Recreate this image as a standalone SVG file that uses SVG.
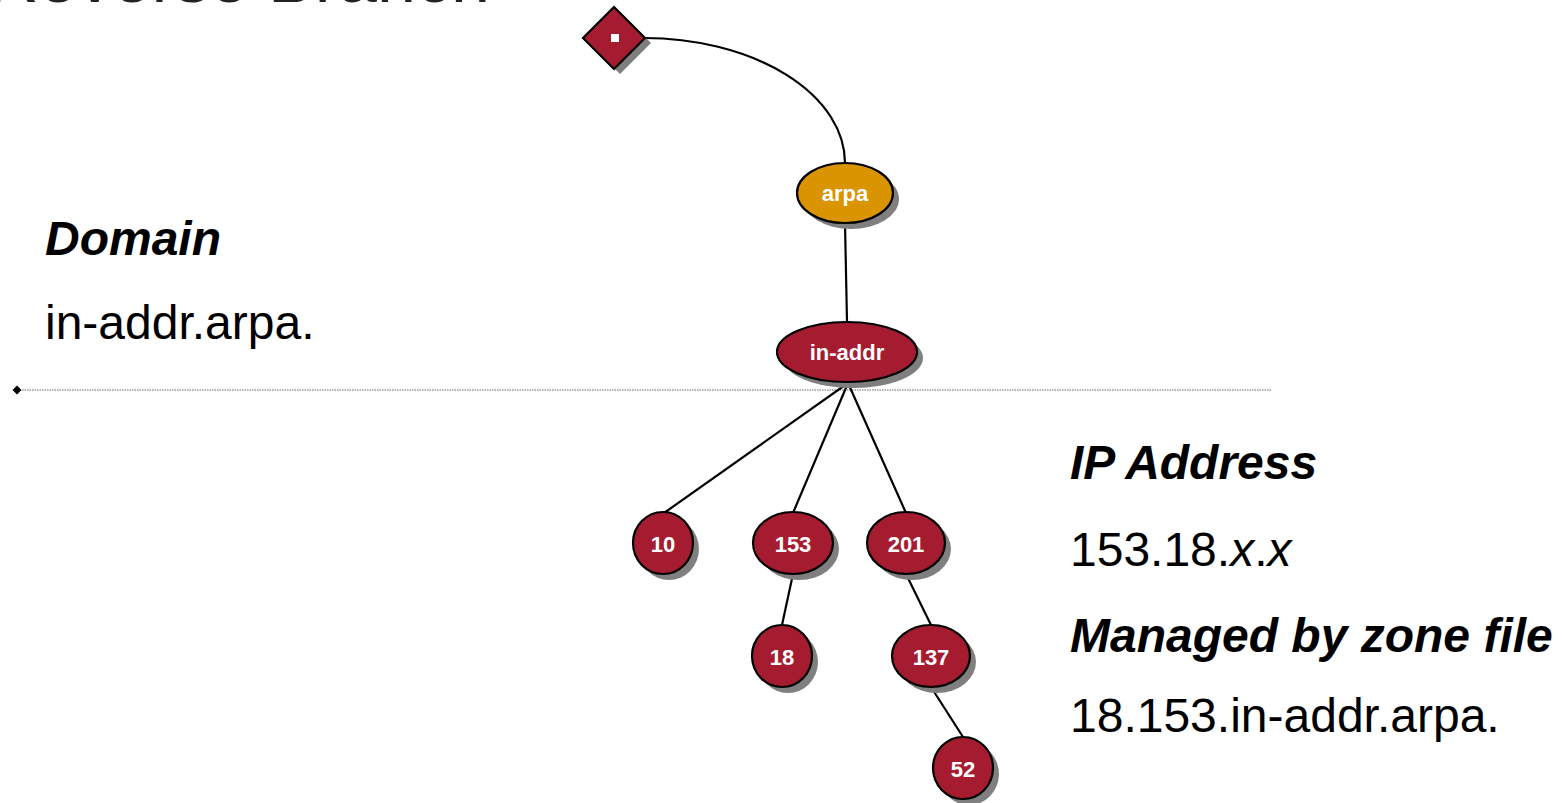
<svg xmlns="http://www.w3.org/2000/svg" width="1566" height="803" viewBox="0 0 1566 803">
  <style>
    .node { fill: #A51C30; stroke: #000; stroke-width: 2.2; }
    .gold { fill: #D99400; stroke: #000; stroke-width: 2.2; }
    .shadow { fill: #7f7f7f; }
    .label { font-family: "Liberation Sans", Arial, sans-serif; font-weight: bold; font-size: 22px; fill: #fff; text-anchor: middle; }
    .edge { stroke: #000; stroke-width: 2.2; fill: none; }
    .head { font-family: "Liberation Sans", Arial, sans-serif; font-weight: bold; font-style: italic; font-size: 48px; fill: #000; }
    .body { font-family: "Liberation Sans", Arial, sans-serif; font-size: 48px; fill: #000; }
  </style>
  <defs>
    <marker id="dot-diamond" viewBox="-5 -5 10 10" markerWidth="10" markerHeight="10" refX="0" refY="0" markerUnits="userSpaceOnUse">
      <polygon points="0,-4.5 4.5,0 0,4.5 -4.5,0" fill="#000"/>
    </marker>
  </defs>

  <rect width="1566" height="803" fill="#fff"/>

  <!-- slide title, mostly above the top edge -->
  <text x="-12" y="2" font-family="Liberation Sans, Arial, sans-serif" font-size="70" fill="#222">Reverse Branch</text>

  <!-- divider -->
  <line x1="17" y1="390" x2="1272" y2="390" stroke="#666" stroke-width="1.2" stroke-dasharray="1.5 1" marker-start="url(#dot-diamond)"/>

  <!-- side captions -->
  <text class="head" x="45" y="255">Domain</text>
  <text class="body" x="45" y="339">in-addr.arpa.</text>
  <text class="head" x="1070" y="479">IP Address</text>
  <text class="body" x="1070" y="566">153.18.<tspan font-style="italic">x</tspan>.<tspan font-style="italic">x</tspan></text>
  <text class="head" x="1070" y="652">Managed by zone file</text>
  <text class="body" x="1070" y="732">18.153.in-addr.arpa.</text>

  <!-- connectors -->
  <g id="connectors">
    <path class="edge" d="M644,38 A201,125 0 0 1 845,163"/>
    <line class="edge" x1="845" y1="223" x2="847" y2="322"/>
    <line class="edge" x1="848" y1="383" x2="664" y2="513"/>
    <line class="edge" x1="848" y1="383" x2="793" y2="513"/>
    <line class="edge" x1="848" y1="383" x2="906" y2="513"/>
    <line class="edge" x1="793" y1="574" x2="782" y2="625"/>
    <line class="edge" x1="906" y1="574" x2="931" y2="625"/>
    <line class="edge" x1="931" y1="687" x2="963" y2="737"/>
  </g>

  <!-- root -->
  <g id="root">
    <polygon class="shadow" points="620,12 651,43 620,74 589,43"/>
    <polygon class="node" points="614,7 645,38 614,69 583,38"/>
    <rect x="611" y="34" width="8" height="8" fill="#fff"/>
  </g>

  <g id="arpa">
    <ellipse class="shadow" cx="851" cy="199" rx="48" ry="30"/>
    <ellipse class="gold" cx="845" cy="193" rx="48" ry="30"/>
    <text class="label" x="845" y="201">arpa</text>
  </g>

  <g id="in-addr">
    <ellipse class="shadow" cx="853" cy="358" rx="70" ry="30"/>
    <ellipse class="node" cx="847" cy="352" rx="70" ry="30"/>
    <text class="label" x="847" y="360">in-addr</text>
  </g>

  <g id="n10">
    <ellipse class="shadow" cx="669" cy="549" rx="30" ry="31"/>
    <ellipse class="node" cx="663" cy="543" rx="30" ry="31"/>
    <text class="label" x="663" y="552">10</text>
  </g>

  <g id="n153">
    <ellipse class="shadow" cx="799" cy="549" rx="40" ry="31"/>
    <ellipse class="node" cx="793" cy="543" rx="40" ry="31"/>
    <text class="label" x="793" y="552">153</text>
  </g>

  <g id="n201">
    <ellipse class="shadow" cx="912" cy="549" rx="39" ry="31"/>
    <ellipse class="node" cx="906" cy="543" rx="39" ry="31"/>
    <text class="label" x="906" y="552">201</text>
  </g>

  <g id="n18">
    <ellipse class="shadow" cx="788" cy="662" rx="30" ry="31"/>
    <ellipse class="node" cx="782" cy="656" rx="30" ry="31"/>
    <text class="label" x="782" y="665">18</text>
  </g>

  <g id="n137">
    <ellipse class="shadow" cx="937" cy="662" rx="39" ry="31"/>
    <ellipse class="node" cx="931" cy="656" rx="39" ry="31"/>
    <text class="label" x="931" y="665">137</text>
  </g>

  <g id="n52">
    <ellipse class="shadow" cx="969" cy="774" rx="30" ry="31"/>
    <ellipse class="node" cx="963" cy="768" rx="30" ry="31"/>
    <text class="label" x="963" y="777">52</text>
  </g>
</svg>
